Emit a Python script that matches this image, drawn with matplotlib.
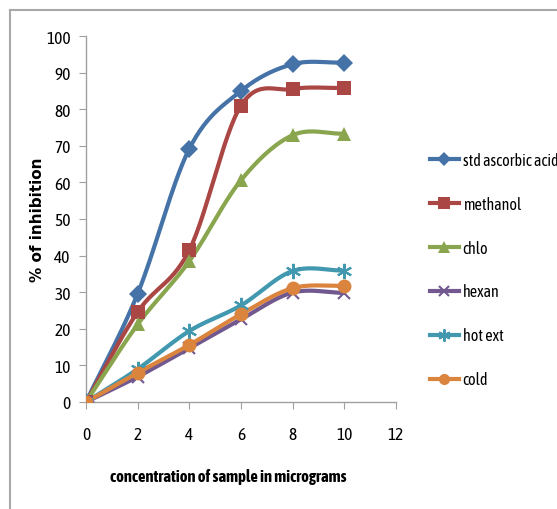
import numpy as np
import matplotlib
matplotlib.use("Agg")
import matplotlib.pyplot as plt
from matplotlib.lines import Line2D
from matplotlib import font_manager

x = [0, 2, 4, 6, 8, 10]
std_ascorbic = [0, 29.6, 69.2, 85.0, 92.3, 92.7]
methanol = [0, 24.6, 41.5, 81.0, 85.5, 85.8]
chlo = [0, 21.2, 38.5, 60.6, 72.9, 73.3]
hexan = [0, 6.9, 14.7, 22.6, 29.9, 29.8]
hot_ext = [0, 9.0, 19.4, 26.4, 35.8, 35.9]
cold = [0, 8.0, 15.6, 24.0, 31.1, 31.8]

labels = ["std ascorbic acid", "methanol", "chlo", "hexan", "hot ext", "cold"]
series = [std_ascorbic, methanol, chlo, hexan, hot_ext, cold]
colors = ["#4572A7", "#AA4643", "#89A54E", "#71588F", "#4198AF", "#DB843D"]
markers = ["D", "s", "^", "x", (6, 2, 0), "o"]
msizes = [9, 10, 10, 9, 11, 10]

xticks = [0, 2, 4, 6, 8, 10, 12]
yticks = list(range(0, 101, 10))

names = {f.name for f in font_manager.fontManager.ttflist}
narrow = None
for cand in ["Liberation Sans Narrow", "Asap Condensed",
             "Barlow Semi Condensed", "Barlow Condensed"]:
    if cand in names:
        narrow = cand
        break
if narrow is None:
    narrow = "DejaVu Sans"
    fs_tick, fs_leg, fs_lab = 10, 9, 9.5
else:
    fs_tick, fs_leg, fs_lab = 12.5, 11.5, 12


def smooth(xs, ys, n=30):
    xs = np.asarray(xs, float)
    ys = np.asarray(ys, float)
    px = np.concatenate([[2 * xs[0] - xs[1]], xs, [2 * xs[-1] - xs[-2]]])
    py = np.concatenate([[2 * ys[0] - ys[1]], ys, [2 * ys[-1] - ys[-2]]])
    ox, oy = [], []
    for i in range(1, len(px) - 2):
        t = np.linspace(0, 1, n, endpoint=False)
        for arr, out in ((px, ox), (py, oy)):
            p0, p1, p2, p3 = arr[i - 1], arr[i], arr[i + 1], arr[i + 2]
            out.extend(0.5 * ((2 * p1) + (-p0 + p2) * t +
                              (2 * p0 - 5 * p1 + 4 * p2 - p3) * t ** 2 +
                              (-p0 + 3 * p1 - 3 * p2 + p3) * t ** 3))
    ox.append(xs[-1]); oy.append(ys[-1])
    return np.array(ox), np.array(oy)


fig = plt.figure(figsize=(5.57, 5.10), dpi=100)
ax = fig.add_axes([86 / 557, 1 - 403 / 510, (396 - 86) / 557, (403 - 37) / 510])

for ys, c, m, ms, lab in zip(series, colors, markers, msizes, labels):
    sx, sy = smooth(x, ys)
    ax.plot(sx, sy, color=c, lw=3, solid_capstyle="round", zorder=2)
    mew = 1.5 if m in ("x", (6, 2, 0)) else 0
    ax.plot(x, ys, linestyle="none", marker=m, markersize=ms, color=c,
            markeredgecolor=c, markeredgewidth=mew, zorder=3)

ax.set_xlim(0, 12)
ax.set_ylim(0, 100)
ax.set_xticks(xticks)
ax.set_yticks(yticks)
for s in ("top", "right"):
    ax.spines[s].set_visible(False)
for s in ("left", "bottom"):
    ax.spines[s].set_color("#A0A0A0")
    ax.spines[s].set_linewidth(1)
ax.tick_params(axis="both", direction="out", color="#A0A0A0", length=5,
               labelsize=fs_tick)
ax.tick_params(axis="x", pad=12)
ax.tick_params(axis="y", pad=6)
for lbl in ax.get_xticklabels() + ax.get_yticklabels():
    lbl.set_fontfamily(narrow)

fig.text(228 / 557, 1 - 477 / 510, "concentration of sample in micrograms",
         ha="center", va="center", fontsize=fs_lab, fontweight="bold",
         family=narrow)
fig.text(38 / 557, 1 - 220 / 510, "% of inhibition", rotation=90,
         ha="center", va="center", fontsize=11, fontweight="bold",
         family="DejaVu Sans")

handles = [Line2D([], [], color=c, lw=3, marker=m, markersize=ms * 0.8,
                  markeredgecolor=c,
                  markeredgewidth=(1.5 if m in ("x", (6, 2, 0)) else 0))
           for c, m, ms in zip(colors, markers, msizes)]
leg = fig.legend(handles, labels, loc="upper left",
                 bbox_to_anchor=(422 / 557, 1 - 145 / 510), frameon=False,
                 prop={"family": narrow, "size": fs_leg}, labelspacing=1.68,
                 handlelength=1.8, handletextpad=0.25, borderpad=0)

# outer border (top and left)
fig.add_artist(Line2D([10 / 557, 10 / 557], [0, 1 - 11 / 510],
                      transform=fig.transFigure, color="#A8A8A8", lw=1.5))
fig.add_artist(Line2D([10 / 557, 1], [1 - 11 / 510, 1 - 11 / 510],
                      transform=fig.transFigure, color="#A8A8A8", lw=1.5))

fig.savefig("out.png", dpi=100)
